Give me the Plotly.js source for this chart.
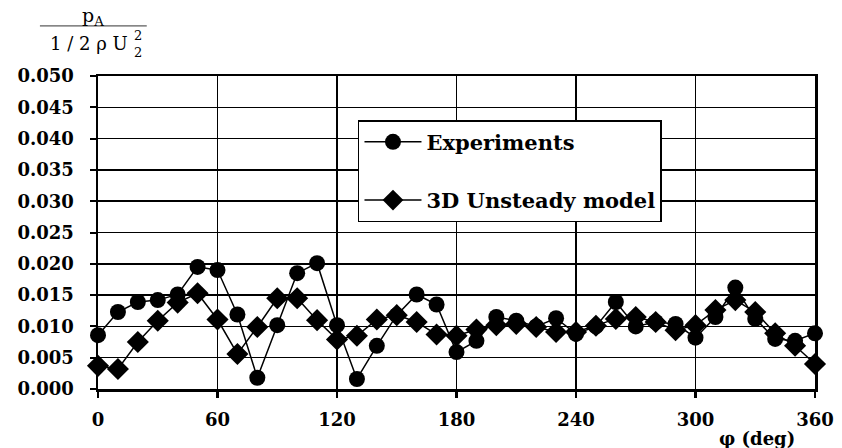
<!DOCTYPE html>
<html>
<head>
<meta charset="utf-8">
<script src="https://cdn.plot.ly/plotly-3.0.1.min.js"></script>
<style>html,body{margin:0;padding:0;background:#fff;}#chart{width:842px;height:448px;}</style>
</head>
<body>
<div id="chart"></div>
<script>
// Angle (deg)
const phi = [0,10,20,30,40,50,60,70,80,90,100,110,120,130,140,150,160,170,180,190,200,210,220,230,240,250,260,270,280,290,300,310,320,330,340,350,360];
// Experiments (circles)
const experiments = [0.0086,0.0123,0.0139,0.0142,0.0151,0.0195,0.0190,0.0119,0.0018,0.0102,0.0185,0.0201,0.0102,0.0016,0.0069,0.0118,0.0151,0.0135,0.0059,0.0077,0.0115,0.0109,0.0100,0.0113,0.0088,0.0100,0.0139,0.0100,0.0107,0.0104,0.0082,0.0115,0.0162,0.0112,0.0080,0.0077,0.0089];
// 3D Unsteady model (diamonds)
const model = [0.0037,0.0032,0.0075,0.0109,0.0138,0.0153,0.0111,0.0056,0.0099,0.0145,0.0145,0.0110,0.0079,0.0085,0.0111,0.0118,0.0107,0.0087,0.0085,0.0095,0.0102,0.0104,0.0099,0.0091,0.0091,0.0101,0.0112,0.0115,0.0107,0.0094,0.0102,0.0126,0.0142,0.0123,0.0089,0.0069,0.0040];
const seriesNames = ['Experiments', '3D Unsteady model'];
const xTicks = [0,60,120,180,240,300,360];

const serif = 'DejaVu Serif, Liberation Serif, serif';

const traces = [
  {x: phi, y: experiments, name: seriesNames[0], type: 'scatter', mode: 'lines+markers',
   legendgroup: 'a', cliponaxis: false,
   line: {color: '#000', width: 1.5}, marker: {symbol: 'circle', size: 16, color: '#000'}},
  {x: phi, y: model, name: seriesNames[1], type: 'scatter', mode: 'lines+markers',
   legendgroup: 'b', cliponaxis: false,
   line: {color: '#000', width: 1.5}, marker: {symbol: 'diamond', size: 17, color: '#000'}}
];

const layout = {
  width: 842, height: 448,
  margin: {l: 98, r: 27, t: 76, b: 59},
  paper_bgcolor: '#fff', plot_bgcolor: '#fff',
  showlegend: true,
  legend: {x: 0.3626, y: 0.859, xanchor: 'left', yanchor: 'top',
    bgcolor: '#fff', bordercolor: '#000', borderwidth: 1.5,
    font: {family: serif, size: 21, color: '#000', weight: 'bold'},
    itemwidth: 57, traceorder: 'grouped', tracegroupgap: 28},
  xaxis: {range: [0, 360], tickvals: xTicks, ticktext: xTicks.map(String),
    showgrid: true, gridcolor: '#000', gridwidth: 1.5,
    showline: true, linecolor: '#000', linewidth: 2.5, mirror: true,
    ticks: 'outside', ticklen: 6, tickwidth: 2.5, tickcolor: '#000',
    ticklabelstandoff: 7,
    zeroline: false, fixedrange: true,
    tickfont: {family: serif, size: 18, color: '#000', weight: 'bold'}},
  yaxis: {range: [0, 0.05], dtick: 0.005, tick0: 0, tickformat: '.3f',
    showgrid: true, gridcolor: '#000', gridwidth: 1.5,
    showline: true, linecolor: '#000', linewidth: 2.5, mirror: true,
    ticks: 'outside', ticklen: 6, tickwidth: 2, tickcolor: '#000',
    ticklabelstandoff: 12,
    zeroline: false, fixedrange: true,
    tickfont: {family: serif, size: 18, color: '#000', weight: 'bold'}},
  shapes: [
    {type: 'line', xref: 'paper', yref: 'paper', x0: -0.081, x1: 0.068, y0: 1.160, y1: 1.160,
     line: {color: '#333', width: 1}}
  ],
  annotations: [
    {xref: 'paper', yref: 'paper', x: -0.007, y: 1.190, text: 'p<sub>A</sub>', showarrow: false,
     xanchor: 'center', yanchor: 'middle', font: {family: serif, size: 19, color: '#000'}},
    {xref: 'paper', yref: 'paper', x: 0.045, y: 1.105, text: '1 / 2 ρ U', showarrow: false,
     xanchor: 'right', yanchor: 'middle', font: {family: serif, size: 18, color: '#000'}},
    {xref: 'paper', yref: 'paper', x: 0.049, y: 1.103, text: '2', showarrow: false,
     xanchor: 'left', yanchor: 'bottom', borderpad: 0, font: {family: serif, size: 13, color: '#000'}},
    {xref: 'paper', yref: 'paper', x: 0.049, y: 1.103, text: '2', showarrow: false,
     xanchor: 'left', yanchor: 'top', borderpad: 0, font: {family: serif, size: 13, color: '#000'}},
    {xref: 'paper', yref: 'paper', x: 0.919, y: -0.157, text: 'φ (deg)', showarrow: false,
     xanchor: 'center', yanchor: 'middle', font: {family: serif, size: 18, color: '#000', weight: 'bold'}}
  ]
};

Plotly.newPlot('chart', traces, layout, {displayModeBar: false, staticPlot: true});
</script>
</body>
</html>
